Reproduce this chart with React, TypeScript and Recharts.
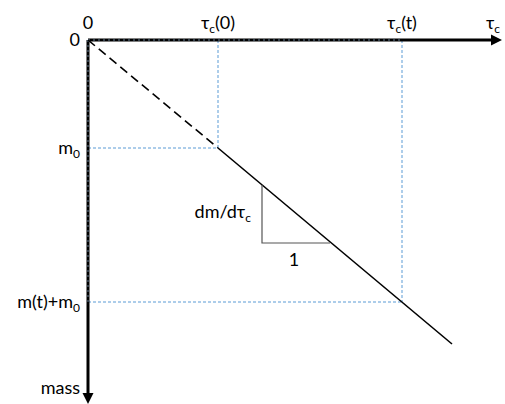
import React from "react";
import { ComposedChart, Line, XAxis, YAxis, ReferenceLine, ReferenceDot } from "recharts";

// τ axis (horizontal, top) and mass axis (vertical, pointing down)
const tauTicks = [0, 1.3, 3.14, 4.05];
const tauTickLabels = [["0", "", ""], ["τ", "c", "(0)"], ["τ", "c", "(t)"], ["τ", "c", ""]];
const massTicks = [0, 1.08, 2.62, 3.48];
const massTickLabels = [["0", "", ""], ["m", "0", ""], ["m(t)+m", "0", ""], ["mass", "", ""]];

const tauMax = 4.14;
const massMax = 3.64;
const tau0 = 1.3;
const tauT = 3.14;
const m0 = 1.08;
const mT = 2.62;

// extrapolated (dashed) and measured (solid) mass vs tau
const dashedPart = [
  { t: 0, m: 0 },
  { t: tau0, m: m0 },
];
const solidPart = [
  { t: tau0, m: m0 },
  { t: 3.64, m: 3.04 },
];
// slope triangle
const slopeTriangle = [
  { t: 1.74, m: 1.45 },
  { t: 1.74, m: 2.03 },
  { t: 2.42, m: 2.03 },
];

const FONT = "Lato, 'Open Sans', sans-serif";
const FS = 18;

const Label3 = ({ x, y, parts, anchor }: any) => (
  <text x={x} y={y} textAnchor={anchor} fontFamily={FONT} fontSize={FS} fill="#000">
    <tspan>{parts[0]}</tspan>
    {parts[1] ? (
      <tspan dy={4} fontSize={12}>
        {parts[1]}
      </tspan>
    ) : null}
    {parts[2] ? <tspan dy={parts[1] ? -4 : 0}>{parts[2]}</tspan> : null}
  </text>
);

const TauTick = (props: any) => {
  const { x, payload } = props;
  const i = tauTicks.indexOf(payload.value);
  const parts = tauTickLabels[i] || ["", "", ""];
  return <Label3 x={x} y={29} parts={parts} anchor="middle" />;
};

const MassTick = (props: any) => {
  const { y, payload } = props;
  const i = massTicks.indexOf(payload.value);
  const parts = massTickLabels[i] || ["", "", ""];
  return <Label3 x={80} y={y + 6} parts={parts} anchor="end" />;
};

const RightArrow = (p: any) => (
  <polygon points={`${p.cx},${p.cy} ${p.cx - 11},${p.cy - 5.5} ${p.cx - 11},${p.cy + 5.5}`} fill="#000" />
);
const DownArrow = (p: any) => (
  <polygon points={`${p.cx},${p.cy} ${p.cx - 5.5},${p.cy - 11} ${p.cx + 5.5},${p.cy - 11}`} fill="#000" />
);

const BLUE = "#5b9bd5";

export default function App() {
  return (
    <div style={{ position: "absolute", left: 0, top: 0, background: "#fff" }}>
      <ComposedChart width={505} height={404} margin={{ top: 10, left: 8, right: 3, bottom: 0 }}>
        <XAxis
          type="number"
          dataKey="t"
          orientation="top"
          domain={[0, tauMax]}
          ticks={tauTicks}
          height={30}
          axisLine={false}
          tickLine={false}
          tick={<TauTick />}
          interval={0}
          allowDataOverflow
        />
        <YAxis
          type="number"
          dataKey="m"
          domain={[0, massMax]}
          reversed
          ticks={massTicks}
          width={80}
          axisLine={false}
          tickLine={false}
          tick={<MassTick />}
          interval={0}
          allowDataOverflow
        />
        {/* guide lines */}
        <ReferenceLine segment={[{ x: tau0, y: 0 }, { x: tau0, y: m0 }]} stroke={BLUE} strokeDasharray="3 2" strokeWidth={1} />
        <ReferenceLine segment={[{ x: 0, y: m0 }, { x: tau0, y: m0 }]} stroke={BLUE} strokeDasharray="3 2" strokeWidth={1} />
        <ReferenceLine segment={[{ x: tauT, y: 0 }, { x: tauT, y: mT }]} stroke={BLUE} strokeDasharray="3 2" strokeWidth={1} />
        <ReferenceLine segment={[{ x: 0, y: mT }, { x: tauT, y: mT }]} stroke={BLUE} strokeDasharray="3 2" strokeWidth={1} />
        {/* axes */}
        <ReferenceLine segment={[{ x: 0, y: 0 }, { x: tauMax - 0.05, y: 0 }]} stroke="#000" strokeWidth={3} />
        <ReferenceLine segment={[{ x: 0, y: 0 }, { x: 0, y: massMax - 0.05 }]} stroke="#000" strokeWidth={3} />
        <ReferenceLine segment={[{ x: 0, y: 0 }, { x: tauT, y: 0 }]} stroke="#7f9cbb" strokeDasharray="2 3" strokeWidth={0.8} />
        <ReferenceLine segment={[{ x: 0, y: 0 }, { x: 0, y: mT }]} stroke="#7f9cbb" strokeDasharray="2 3" strokeWidth={0.8} />
        <ReferenceDot x={tauMax} y={0} r={0} shape={<RightArrow />} ifOverflow="visible" />
        <ReferenceDot x={0} y={massMax} r={0} shape={<DownArrow />} ifOverflow="visible" />
        {/* data */}
        <Line data={dashedPart} dataKey="m" stroke="#000" strokeWidth={1.6} strokeDasharray="9 5" dot={false} isAnimationActive={false} />
        <Line data={solidPart} dataKey="m" stroke="#000" strokeWidth={1.6} dot={false} isAnimationActive={false} />
        <Line data={slopeTriangle} dataKey="m" stroke="#555" strokeWidth={1.2} dot={false} isAnimationActive={false} />
        <ReferenceDot
          x={1.63}
          y={1.72}
          r={0}
          ifOverflow="visible"
          shape={(p: any) => <Label3 x={p.cx} y={p.cy + 6} parts={["dm/dτ", "c", ""]} anchor="end" />}
        />
        <ReferenceDot
          x={2.06}
          y={2.2}
          r={0}
          ifOverflow="visible"
          shape={(p: any) => <Label3 x={p.cx} y={p.cy + 6} parts={["1", "", ""]} anchor="middle" />}
        />
      </ComposedChart>
    </div>
  );
}
